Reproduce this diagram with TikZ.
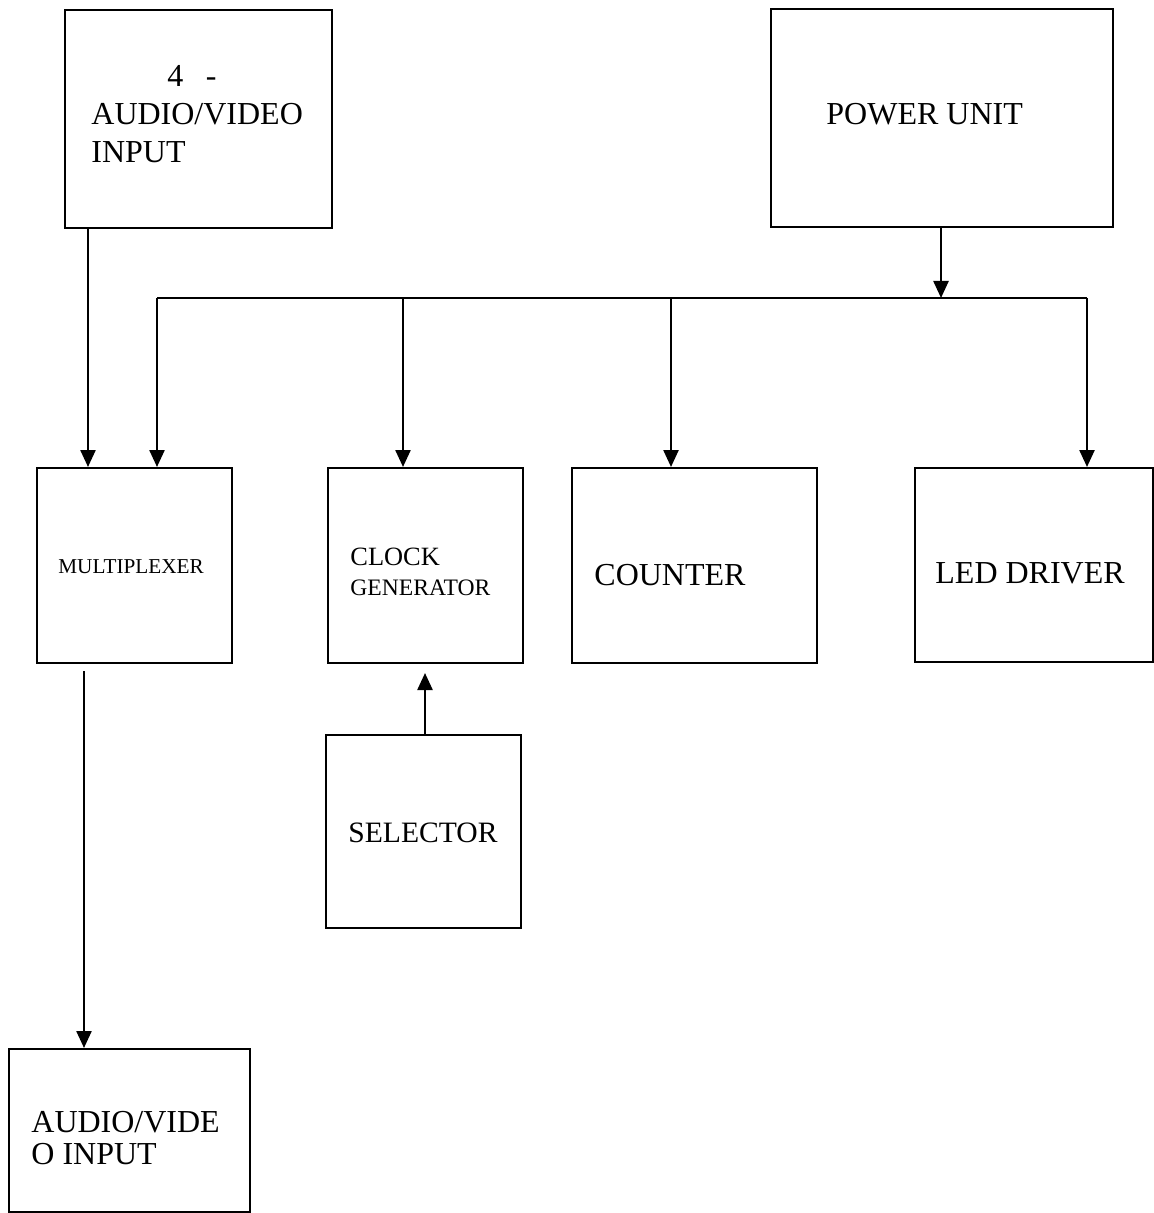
\documentclass[tikz,border=0pt]{standalone}
\usepackage{fontspec}
\setmainfont{Liberation Serif}
\usepackage{tikz}
\usetikzlibrary{positioning,calc,fit,arrows.meta}

\begin{document}
\begin{tikzpicture}[x=0.5pt,y=-0.5pt]
  \tikzstyle{blk}=[draw=black,line width=1pt,rectangle,inner sep=0pt];
  \tikzstyle{lbl}=[anchor=base west,inner sep=0pt,font=\fontsize{16}{18}\selectfont];
  \tikzstyle{ed}=[draw=black,line width=1.2pt];
  \tikzstyle{arr}=[ed,-{Triangle[length=8.5pt,width=7.5pt]}];
  \useasboundingbox (0,0) rectangle (1154,1213);
  % blocks
  \node [blk,fit={(65,10) (332,228)}] (avin) {};
  \node [blk,fit={(771,9) (1113,227)}] (power) {};
  \node [blk,fit={(37,468) (232,663)}] (mux) {};
  \node [blk,fit={(328,468) (523,663)}] (clock) {};
  \node [blk,fit={(572,468) (817,663)}] (counter) {};
  \node [blk,fit={(915,468) (1153,662)}] (led) {};
  \node [blk,fit={(326,735) (521,928)}] (selector) {};
  \node [blk,fit={(9,1049) (250,1212)}] (avout) {};
  % texts
  \node [lbl] (avin-a) at (167,87) {4\hspace{0.7em}-};
  \node [lbl] (avin-b) at (91,125) {AUDIO/VIDEO};
  \node [lbl] (avin-c) at (91,163) {INPUT};
  \node [lbl] (power-a) at (826,125) {POWER UNIT};
  \node [lbl,font=\fontsize{10.6}{12}\selectfont] (mux-a) at (58,573) {MULTIPLEXER};
  \node [lbl,font=\fontsize{13.2}{15}\selectfont] (clock-a) at (350,565) {CLOCK};
  \node [lbl,font=\fontsize{11.8}{14}\selectfont] (clock-b) at (350,595) {GENERATOR};
  \node [lbl] (counter-a) at (594,585) {COUNTER};
  \node [lbl] (led-a) at (935,583) {LED DRIVER};
  \node [lbl,font=\fontsize{14.8}{17}\selectfont] (selector-a) at (348,842) {SELECTOR};
  \node [lbl] (avout-a) at (31,1132) {AUDIO/VIDE};
  \node [lbl] (avout-b) at (31,1164) {O INPUT};
  % power bus
  \coordinate (bus-mux) at (157,298);
  \coordinate (bus-clk) at (403,298);
  \coordinate (bus-cnt) at (671,298);
  \coordinate (bus-pwr) at (941,298);
  \coordinate (bus-led) at (1087,298);
  \coordinate (in-x) at (88,0);
  \coordinate (out-x) at (84,0);
  \coordinate (sel-x) at (425,0);
  \draw [ed] (bus-mux) -- (bus-led);
  \draw [arr] (power.south -| bus-pwr) -- (bus-pwr);
  \draw [arr] (bus-mux) -- (bus-mux |- mux.north);
  \draw [arr] (bus-clk) -- (bus-clk |- clock.north);
  \draw [arr] (bus-cnt) -- (bus-cnt |- counter.north);
  \draw [arr] (bus-led) -- (bus-led |- led.north);
  % signal path
  \draw [arr] (avin.south -| in-x) -- (mux.north -| in-x);
  \draw [arr] ($(mux.south -| out-x)+(0,7)$) -- (avout.north -| out-x);
  \draw [arr] (selector.north -| sel-x) -- ($(clock.south -| sel-x)+(0,9)$);
\end{tikzpicture}
\end{document}
